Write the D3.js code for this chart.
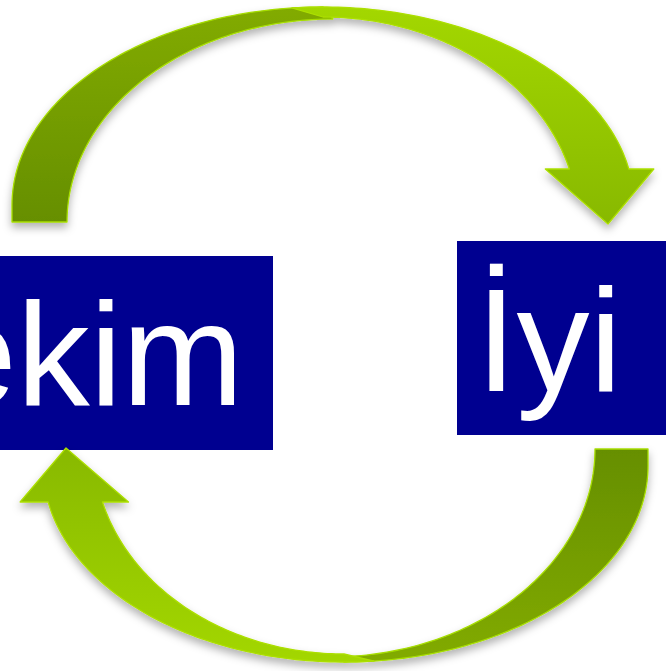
<!DOCTYPE html>
<html lang="tr">
<head>
<meta charset="utf-8">
<script src="https://cdn.jsdelivr.net/npm/d3@7"></script>
<style>
  html, body { margin: 0; padding: 0; background: #fff; overflow: hidden; }
  svg { display: block; }
  .kutu-metin { font-family: "Liberation Sans", Arial, sans-serif; fill: #fff; }
</style>
</head>
<body>
<div id="sema"></div>
<script>
// kutulardaki yazılar ve okların yönü
const etiketler = ["Hekim", "İyi"];
const okKaynak = ["Hekim", "İyi"];
const okHedef = ["İyi", "Hekim"];

const width = 666;
const height = 671;
const yaziBoyu = 146;

// kutu yerleşimi (sol kutu soldan, sağ kutu sağdan taşıyor)
const kutuDuzeni = {
  "Hekim": { x: -210, y: 256, w: 483, h: 194, metinX: -170, metinY: 405 },
  "İyi":   { x: 457,  y: 241, w: 260, h: 194, metinX: 476,  metinY: 391 }
};

// ok geometrisi, kavis yukarıda / kuyruk solda / uç sağda olacak şekilde.
// alttaki ok aynı biçimde çizilip 180° döndürülüyor.
const okDuzeni = {
  "Hekim>İyi": {
    disArka: { cx: 323, cy: 205, rx: 311, ry: 198 },
    icArka:  { cx: 333, cy: 222, rx: 266, ry: 203 },
    disOn:   { cx: 323, cy: 205, rx: 311, ry: 198 },
    icOn:    { cx: 323, cy: 222, rx: 255, ry: 205 },
    kuyrukY: 222, omuzY: 169, uc: [608, 224], kanatDis: 25, kanatIc: 24,
    donus: null
  },
  "İyi>Hekim": {
    disArka: { cx: 316, cy: 205, rx: 304, ry: 196 },
    icArka:  { cx: 330, cy: 222, rx: 265, ry: 208 },
    disOn:   { cx: 316, cy: 205, rx: 301, ry: 196 },
    icOn:    { cx: 316, cy: 222, rx: 250, ry: 205 },
    kuyrukY: 222, omuzY: 169, uc: [594, 223], kanatDis: 28, kanatIc: 26,
    donus: [330, 335.5]
  }
};

const svg = d3.select("#sema")
  .append("svg")
  .attr("width", width)
  .attr("height", height)
  .attr("viewBox", [0, 0, width, height]);

const defs = svg.append("defs");

const golge = defs.append("filter")
  .attr("id", "golge")
  .attr("x", "-10%").attr("y", "-10%")
  .attr("width", "120%").attr("height", "130%");
golge.append("feDropShadow")
  .attr("dx", 0).attr("dy", 5)
  .attr("stdDeviation", 4)
  .attr("flood-color", "#000")
  .attr("flood-opacity", 0.3);

function gradyan(id, y1, y2, renk1, renk2) {
  const g = defs.append("linearGradient")
    .attr("id", id)
    .attr("gradientUnits", "userSpaceOnUse")
    .attr("x1", 0).attr("x2", 0)
    .attr("y1", y1).attr("y2", y2);
  g.append("stop").attr("offset", 0).attr("stop-color", renk1);
  g.append("stop").attr("offset", 1).attr("stop-color", renk2);
}
gradyan("arkaRenk", 7, 222, "#82ab00", "#668f00");
gradyan("onRenk", 7, 224, "#a3d700", "#88b900");

// kutular
const kutular = svg.append("g")
  .selectAll("g")
  .data(etiketler)
  .join("g");

kutular.append("rect")
  .attr("x", d => kutuDuzeni[d].x)
  .attr("y", d => kutuDuzeni[d].y)
  .attr("width", d => kutuDuzeni[d].w)
  .attr("height", d => kutuDuzeni[d].h)
  .attr("fill", "#000090");

kutular.append("text")
  .attr("class", "kutu-metin")
  .attr("x", d => kutuDuzeni[d].metinX)
  .attr("y", d => kutuDuzeni[d].metinY)
  .style("font-size", `${yaziBoyu}px`)
  .text(d => d);

// oklar
function nokta(e, t) {
  return [e.cx + e.rx * Math.cos(t), e.cy - e.ry * Math.sin(t)];
}

function yay(e, t0, t1, n = 80) {
  return d3.range(n + 1).map(i => nokta(e, t0 + (t1 - t0) * i / n));
}

function omuzAcisi(e, y) {
  return Math.asin(Math.max(-1, Math.min(1, (e.cy - y) / e.ry)));
}

const cizgi = d3.line();

function arkaYol(o) {
  const noktalar = [
    [o.disArka.cx - o.disArka.rx, o.kuyrukY],
    ...yay(o.disArka, Math.PI, Math.PI / 2),
    ...yay(o.icArka, Math.PI / 2, Math.PI),
    [o.icArka.cx - o.icArka.rx, o.kuyrukY]
  ];
  return cizgi(noktalar) + "Z";
}

function onYol(o) {
  const tDis = omuzAcisi(o.disOn, o.omuzY);
  const tIc = omuzAcisi(o.icOn, o.omuzY);
  const omuzDis = nokta(o.disOn, tDis);
  const omuzIc = nokta(o.icOn, tIc);
  const noktalar = [
    ...yay(o.disOn, Math.PI / 2 + 0.1, tDis),
    [omuzDis[0] + o.kanatDis, o.omuzY],
    o.uc,
    [omuzIc[0] - o.kanatIc, o.omuzY],
    ...yay(o.icOn, tIc, Math.PI / 2)
  ];
  return cizgi(noktalar) + "Z";
}

const okVerisi = okKaynak.map((k, i) => `${k}>${okHedef[i]}`);

const oklar = svg.append("g")
  .selectAll("g")
  .data(okVerisi)
  .join("g")
  .attr("filter", "url(#golge)")
  .append("g")
  .attr("transform", d => okDuzeni[d].donus
    ? `rotate(180,${okDuzeni[d].donus[0]},${okDuzeni[d].donus[1]})`
    : null);

oklar.append("path")
  .attr("d", d => arkaYol(okDuzeni[d]))
  .attr("fill", "url(#arkaRenk)")
  .attr("stroke", "#a6dd00")
  .attr("stroke-width", 1.3)
  .attr("stroke-linejoin", "round");

oklar.append("path")
  .attr("d", d => onYol(okDuzeni[d]))
  .attr("fill", "url(#onRenk)")
  .attr("stroke", "#acdf00")
  .attr("stroke-width", 1.3)
  .attr("stroke-linejoin", "round");
</script>
</body>
</html>
